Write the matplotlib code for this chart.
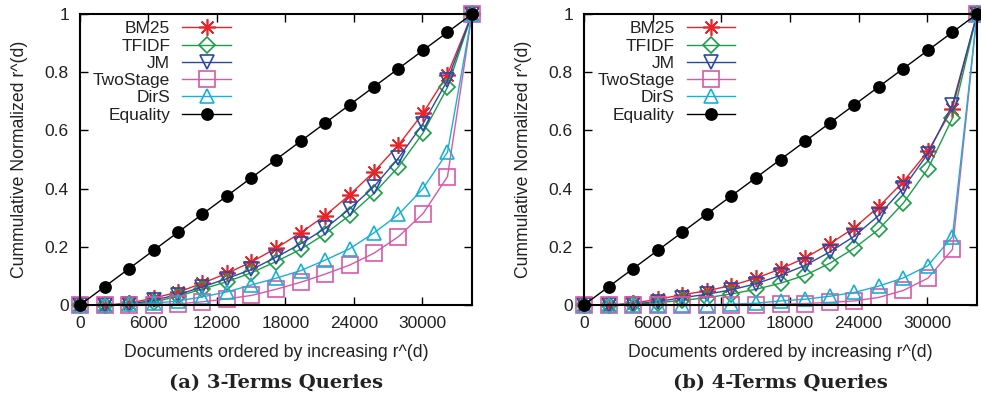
import matplotlib
matplotlib.use("Agg")
import matplotlib.pyplot as plt

plt.rcParams['font.family'] = ['Liberation Sans', 'DejaVu Sans']

# ---------------- data ----------------
docs = [0, 2147, 4294, 6441, 8588, 10734, 12881, 15028, 17175, 19322,
        21469, 23616, 25763, 27909, 30056, 32203, 34350]
x_ticks = [0, 6000, 12000, 18000, 24000, 30000]
y_ticks = [0, 0.2, 0.4, 0.6, 0.8, 1]
y_tick_labels = ["0", "0.2", "0.4", "0.6", "0.8", "1"]
series_names = ["BM25", "TFIDF", "JM", "TwoStage", "DirS", "Equality"]

equality = [0, 0.0625, 0.125, 0.1875, 0.25, 0.3125, 0.375, 0.4375, 0.5,
            0.5625, 0.625, 0.6875, 0.75, 0.8125, 0.875, 0.9375, 1]

# (a) 3-term queries
bm25_3 = [0, 0, 0.006, 0.024, 0.044, 0.075, 0.109, 0.148, 0.195, 0.248,
          0.307, 0.378, 0.458, 0.55, 0.659, 0.792, 1]
tfidf_3 = [0, 0, 0.002, 0.01, 0.03, 0.055, 0.08, 0.111, 0.149, 0.191,
           0.244, 0.308, 0.384, 0.475, 0.591, 0.748, 1]
jm_3 = [0, 0, 0.003, 0.016, 0.036, 0.062, 0.091, 0.122, 0.164, 0.21,
        0.263, 0.33, 0.407, 0.505, 0.623, 0.772, 1]
twostage_3 = [0, 0, 0, 0.001, 0.004, 0.011, 0.021, 0.033, 0.054, 0.078,
              0.106, 0.137, 0.178, 0.235, 0.314, 0.441, 1]
dirs_3 = [0, 0, 0.002, 0.006, 0.014, 0.028, 0.045, 0.069, 0.092, 0.118,
          0.154, 0.193, 0.248, 0.311, 0.4, 0.525, 1]

# (b) 4-term queries
bm25_4 = [0, 0, 0.006, 0.02, 0.035, 0.049, 0.067, 0.092, 0.124, 0.162,
          0.21, 0.265, 0.338, 0.424, 0.528, 0.675, 1]
tfidf_4 = [0, 0, 0.002, 0.008, 0.016, 0.025, 0.038, 0.054, 0.075, 0.102,
           0.143, 0.195, 0.26, 0.35, 0.468, 0.642, 1]
jm_4 = [0, 0, 0.003, 0.012, 0.025, 0.037, 0.052, 0.073, 0.102, 0.136,
        0.182, 0.236, 0.308, 0.402, 0.52, 0.688, 1]
twostage_4 = [0, 0, 0, 0, 0, 0, 0, 0.001, 0.003, 0.005, 0.009, 0.014,
              0.026, 0.05, 0.092, 0.191, 1]
dirs_4 = [0, 0, 0, 0, 0, 0.001, 0.003, 0.006, 0.014, 0.02, 0.03, 0.043,
          0.065, 0.093, 0.135, 0.235, 1]

panels = [
    ("(a) 3-Terms Queries", [bm25_3, tfidf_3, jm_3, twostage_3, dirs_3, equality]),
    ("(b) 4-Terms Queries", [bm25_4, tfidf_4, jm_4, twostage_4, dirs_4, equality]),
]

colors = ["#e8242b", "#1a9e48", "#2a49a6", "#d858a8", "#1ab0d6", "#000000"]
markers = [(8, 2, 0), "D", "v", "s", "^", "o"]
msizes = [12, 8.5, 10, 11, 10, 8]
fills = ["none", "none", "none", "none", "none", "full"]

fig = plt.figure(figsize=(9.81, 4.01), dpi=100)
axes_pos = [[80 / 981, 96 / 401, 392 / 981, 291 / 401],
            [584 / 981, 96 / 401, 393 / 981, 291 / 401]]

for (caption, data), pos in zip(panels, axes_pos):
    ax = fig.add_axes(pos)
    for name, vals, c, m, ms, fs in zip(series_names, data, colors, markers, msizes, fills):
        ax.plot(docs, vals, color=c, marker=m, markersize=ms, fillstyle=fs,
                markeredgewidth=1.2, linewidth=1.0, label=name,
                markerfacecolor=(c if fs == "full" else "none"),
                markeredgecolor=c, clip_on=False)
    ax.set_xlim(docs[0], docs[-1])
    ax.set_ylim(0, 1)
    ax.set_xticks(x_ticks)
    ax.set_xticklabels([str(t) for t in x_ticks])
    ax.set_yticks(y_ticks)
    ax.set_yticklabels(y_tick_labels)
    ax.tick_params(direction="in", length=6, width=1, labelsize=12.5,
                   top=True, right=True, colors="black", labelcolor="#222222")
    ax.tick_params(axis="x", pad=8)
    ax.tick_params(axis="y", pad=8)
    for sp in ax.spines.values():
        sp.set_linewidth(1.5)
    ax.set_xlabel("Documents ordered by increasing r^(d)", fontsize=12.7,
                  labelpad=9, color="#222222")
    ax.set_ylabel("Cummulative Normalized r^(d)", fontsize=12.7,
                  labelpad=12, color="#222222")
    leg = ax.legend(loc="upper right", bbox_to_anchor=(0.385, 0.975),
                    markerfirst=False, frameon=False, fontsize=12.5,
                    handlelength=2.8, handletextpad=0.7, labelspacing=0.12,
                    borderpad=0, borderaxespad=0)
    for t in leg.get_texts():
        t.set_color("#222222")
    cx = pos[0] + pos[2] / 2
    fig.text(cx, 0.045, caption, ha="center", va="center",
             fontsize=14, fontweight="bold", family=["DejaVu Serif"],
             color="#222222")

fig.savefig("out.png", dpi=100)
